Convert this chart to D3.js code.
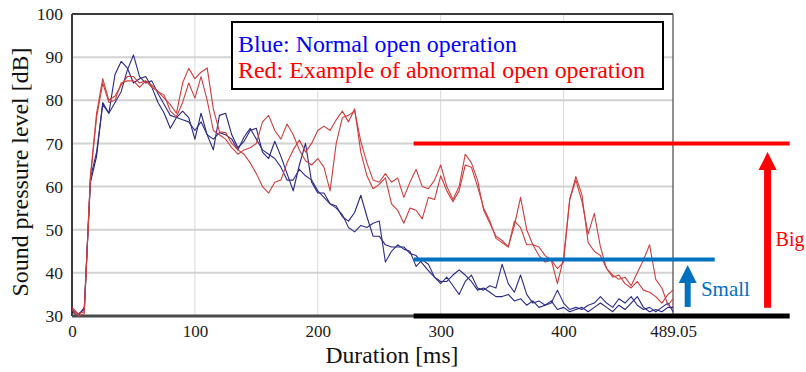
<!DOCTYPE html>
<html>
<head>
<meta charset="utf-8">
<script src="https://cdn.jsdelivr.net/npm/d3@7"></script>
<style>
html, body { margin: 0; padding: 0; background: #fff; }
svg { display: block; }
</style>
</head>
<body>
<svg id="chart" width="806" height="372"></svg>
<script>
// sampling instants [ms]
const times = [
    0, 5, 10, 15, 20, 25, 30, 35, 40, 45,
    50, 55, 60, 65, 70, 75, 80, 85, 90, 95,
    100, 105, 110, 115, 120, 125, 130, 135, 140, 145,
    150, 155, 160, 165, 170, 175, 180, 185, 190, 195,
    200, 205, 210, 215, 220, 225, 230, 235, 240, 245,
    250, 255, 260, 265, 270, 275, 280, 285, 290, 295,
    300, 305, 310, 315, 320, 325, 330, 335, 340, 345,
    350, 355, 360, 365, 370, 375, 380, 385, 390, 395,
    400, 405, 410, 415, 420, 425, 430, 435, 440, 445,
    450, 455, 460, 465, 470, 475, 480, 485,
    489.05
];

// normal open operation [dB]
const blueA = [
    31, 30, 32, 61, 67, 79.5, 77, 86, 89, 87.5,
    84, 85, 85.5, 83, 79.5, 77, 73.5, 76, 77.5, 76,
    71, 77, 72, 68.5, 76.5, 77, 72, 69, 70.5, 73,
    73.5, 68, 66.5, 70.5, 67, 63, 59, 65, 70, 61,
    58.5, 58.5, 56, 55.5, 53, 52, 54, 58, 53, 48.5,
    48.5, 46.5, 46, 46, 46, 44.5, 44, 42.2, 40.5, 39,
    38, 38, 39.5, 40.7, 39.5, 38, 36, 36.5, 35.5, 34.5,
    34.5, 35, 33.5, 34, 32.5, 33.5, 32, 32.5, 33.5, 31.5,
    32, 31, 31.5, 32, 31, 32, 33, 32, 31, 32.5,
    31.5, 33, 34.5, 32, 31, 31.5, 31, 32,
    32
];
const blueB = [
    31.5, 30.5, 31.5, 62, 68, 79, 77, 79.5, 82, 87,
    90.5, 85.5, 84, 84.5, 81.5, 79, 76.5, 76, 75.5, 75,
    73, 75, 72, 71, 72.5, 72, 71, 68.5, 71.5, 73.5,
    71, 68.5, 67.5, 66.5, 64.5, 61.5, 61.5, 64, 62.5, 61.5,
    59, 57.5, 56, 55, 53.5, 50.5, 49.5, 51, 50.5, 51.5,
    52, 42.5, 45, 46.5, 45.5, 45, 41.5, 43, 42, 39,
    37.5, 39, 37, 35, 38, 39.5, 36.5, 36, 37, 36.5,
    42, 37.5, 35.5, 39.5, 35, 33, 33.5, 32.5, 33, 36,
    33, 31.5, 32, 31.5, 32.5, 33, 34.5, 33, 32, 34,
    33, 34.5, 32.5, 31.5, 32, 31, 32, 33,
    31
];

// abnormal open operation [dB]
const redA = [
    32, 30.5, 31, 62.5, 77, 85, 80, 81, 83.5, 85.5,
    85.5, 84, 84.5, 83.5, 82, 80.5, 79, 77, 84, 87.4,
    85, 86.5, 87.5, 78, 72.7, 72.5, 70, 68.5, 67.5, 65.5,
    63, 60, 58.5, 61, 61.5, 65.5, 68.5, 70.8, 68, 70,
    73, 74, 73, 75.5, 77.5, 75, 78, 68, 62.5, 59.5,
    60.5, 62, 56, 54.5, 51.5, 55, 54.5, 52.5, 57.5, 57,
    62.5, 59, 56.5, 59, 65, 64.5, 60, 55, 52, 48,
    47, 46, 51, 57.5, 50, 46.5, 46, 44, 43, 37.5,
    43.5, 57, 62.3, 58, 47, 45, 44, 41, 39, 39.5,
    37.5, 36.5, 38, 36, 35.5, 34.5, 33, 35,
    36
];
const redB = [
    31.5, 30, 30.5, 62, 76, 84, 79.5, 80, 84, 84.5,
    84.5, 83, 84.5, 83, 82, 81.2, 77.5, 76.2, 79.5, 84,
    80.5, 85.5, 80, 73, 72, 71, 69, 67.5, 68.5, 69,
    70, 75, 76.5, 73, 71, 74.5, 72, 68.5, 66, 65,
    66.5, 64.5, 59, 70, 76, 76.5, 77.5, 70.5, 65.5, 61.5,
    61, 63, 61, 62, 57.5, 61, 64, 60, 59.5, 61.5,
    65, 60, 57, 60, 67.5, 65.5, 61.5, 54.5, 51.5, 48.5,
    47.5, 46, 52, 50.5, 46.5, 46.5, 44, 42.5, 43, 41,
    42.5, 57, 61.5, 56.5, 49, 53.8, 46, 41, 39.5, 38.5,
    39, 37, 40, 43, 46.5, 38.5, 36.5, 32.5,
    34
];

const yTicks = [30, 40, 50, 60, 70, 80, 90, 100];
const xTicks = [0, 100, 200, 300, 400, 489.05];
const xTickLabels = ['0', '100', '200', '300', '400', '489.05'];

const legendLines = ['Blue: Normal open operation', 'Red: Example of abnormal open operation'];

// level marks: [dB, from ms, to ms]
const bigLevel = [70, 278, 584];
const smallLevel = [43.1, 278, 523];
const baseLevel = [30, 278, 584];
// arrows: [ms, from dB, to dB]
const smallArrow = [501, 32.1, 41.8];
const bigArrow = [566, 31.9, 68];

const SERIF = "'Liberation Serif', 'Times New Roman', serif";

const svg = d3.select('#chart');

const plot = {left: 72, right: 673, top: 14, bottom: 316};

const x = d3.scaleLinear().domain([0, 489.05]).range([plot.left, plot.right]);
const y = d3.scaleLinear().domain([30, 100]).range([plot.bottom, plot.top]);

// squeeze/stretch font size so a label spans the width seen in the picture
function fit(sel, size, width) {
    sel.style('font-size', size + 'px');
    const w = sel.node().getComputedTextLength();
    if (w > 0) sel.style('font-size', (size * width / w).toFixed(2) + 'px');
    return sel;
}

// grid
svg.append('g')
    .selectAll('line')
    .data(xTicks.slice(1, 5))
    .enter()
    .append('line')
    .attr('x1', d => x(d)).attr('x2', d => x(d))
    .attr('y1', plot.top).attr('y2', plot.bottom)
    .attr('stroke', '#dadada').attr('stroke-width', 1);

svg.append('g')
    .selectAll('line')
    .data(yTicks.slice(1, 7))
    .enter()
    .append('line')
    .attr('x1', plot.left).attr('x2', plot.right)
    .attr('y1', d => y(d)).attr('y2', d => y(d))
    .attr('stroke', '#d2d2d2').attr('stroke-width', 2);

// frame
svg.append('line')
    .attr('x1', plot.left).attr('x2', plot.right)
    .attr('y1', plot.top).attr('y2', plot.top)
    .attr('stroke', '#3c3c3c').attr('stroke-width', 2);
svg.append('line')
    .attr('x1', plot.right).attr('x2', plot.right)
    .attr('y1', plot.top).attr('y2', plot.bottom)
    .attr('stroke', '#555').attr('stroke-width', 1.3);
svg.append('line')
    .attr('x1', plot.left).attr('x2', plot.left)
    .attr('y1', plot.top).attr('y2', plot.bottom)
    .attr('stroke', '#3c3c3c').attr('stroke-width', 2);
svg.append('line')
    .attr('x1', plot.left).attr('x2', plot.right)
    .attr('y1', plot.bottom).attr('y2', plot.bottom)
    .attr('stroke', '#4a4a4a').attr('stroke-width', 3);

// axes labels
svg.append('g')
    .attr('transform', `translate(${plot.left}, 0)`)
    .call(d3.axisLeft(y).tickValues(yTicks).tickSize(0).tickPadding(9))
    .call(g => g.select('.domain').remove())
    .call(g => g.selectAll('text')
        .attr('fill', '#1a1a1a')
        .style('font-size', '17.5px')
        .style('font-family', SERIF));

svg.append('g')
    .attr('transform', `translate(0, ${plot.bottom})`)
    .call(d3.axisBottom(x).tickValues(xTicks).tickFormat((d, i) => xTickLabels[i]).tickSize(0).tickPadding(9))
    .call(g => g.select('.domain').remove())
    .call(g => g.selectAll('text')
        .attr('fill', '#1a1a1a')
        .style('font-size', '17px')
        .style('font-family', SERIF));

fit(svg.append('text')
    .attr('transform', 'translate(28, 172) rotate(-90)')
    .attr('text-anchor', 'middle')
    .attr('fill', '#111')
    .style('font-family', SERIF)
    .text('Sound pressure level [dB]'), 22, 249);

fit(svg.append('text')
    .attr('x', 392).attr('y', 363)
    .attr('text-anchor', 'middle')
    .attr('fill', '#111')
    .style('font-family', SERIF)
    .text('Duration [ms]'), 22, 133);

// traces
const line = d3.line()
    .x((d, i) => x(times[i]))
    .y(d => y(d));

[[blueA, '#25257e'], [blueB, '#2e2e88'], [redA, '#d03a3a'], [redB, '#cc4040']].forEach(([values, color]) => {
    svg.append('path')
        .datum(values)
        .attr('d', line)
        .attr('fill', 'none')
        .attr('stroke', color)
        .attr('stroke-width', 1.1)
        .attr('stroke-linejoin', 'round');
});

// level marks
[[bigLevel, '#ff0000', 4], [smallLevel, '#0070c0', 4], [baseLevel, '#000', 5]].forEach(([lv, color, w]) => {
    svg.append('line')
        .attr('x1', x(lv[1])).attr('x2', x(lv[2]))
        .attr('y1', y(lv[0])).attr('y2', y(lv[0]))
        .attr('stroke', color).attr('stroke-width', w);
});

function arrow(a, color, shaft) {
    const cx = x(a[0]), y0 = y(a[1]), y1 = y(a[2]);
    const head = 18, half = 9;
    svg.append('line')
        .attr('x1', cx).attr('x2', cx)
        .attr('y1', y0).attr('y2', y1 + head - 1)
        .attr('stroke', color).attr('stroke-width', shaft);
    svg.append('path')
        .attr('d', `M${cx},${y1} L${cx + half},${y1 + head} L${cx - half},${y1 + head} Z`)
        .attr('fill', color);
}
arrow(smallArrow, '#0070c0', 6);
arrow(bigArrow, '#ff0000', 7);

fit(svg.append('text')
    .attr('x', x(511.8)).attr('y', y(34.6))
    .attr('fill', '#0070c0')
    .style('font-family', SERIF)
    .text('Small'), 21, 49);

svg.append('text')
    .attr('x', x(572.5)).attr('y', y(46.2))
    .attr('fill', '#ff0000')
    .style('font-family', SERIF)
    .style('font-size', '20px')
    .text('Big');

// legend
const legend = svg.append('g');
legend.append('rect')
    .attr('x', 232).attr('y', 22)
    .attr('width', 431).attr('height', 67)
    .attr('fill', '#fff')
    .attr('stroke', '#000').attr('stroke-width', 2);
legend.selectAll('text')
    .data(legendLines)
    .enter()
    .append('text')
    .attr('x', 238)
    .attr('y', (d, i) => 52 + i * 26)
    .attr('fill', (d, i) => i === 0 ? '#0000ff' : '#ff0000')
    .style('font-family', SERIF)
    .text(d => d)
    .each(function (d, i) { fit(d3.select(this), 22, i === 0 ? 279 : 407); });
</script>
</body>
</html>
